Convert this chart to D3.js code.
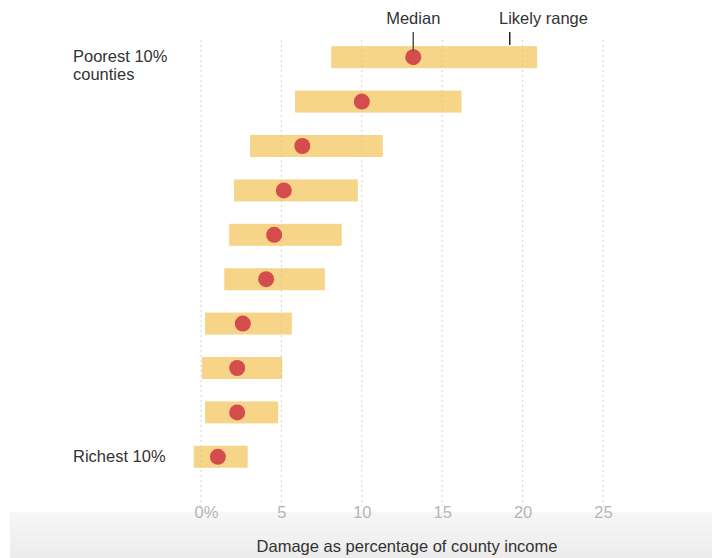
<!DOCTYPE html>
<html>
<head>
<meta charset="utf-8">
<script src="https://cdn.jsdelivr.net/npm/d3@7"></script>
<style>
  html, body { margin: 0; padding: 0; background: #fff; }
  svg { display: block; font-family: "Liberation Sans", Arial, sans-serif; }
</style>
</head>
<body>
<svg id="chart" width="712" height="558"></svg>
<script>
// Data
const groups = ["Poorest 10% counties", "2", "3", "4", "5", "6", "7", "8", "9", "Richest 10%"];
const lowValues    = [8.1, 5.85, 3.05, 2.05, 1.75, 1.45, 0.25, 0.05, 0.25, -0.45];
const highValues   = [20.9, 16.2, 11.3, 9.75, 8.75, 7.7, 5.65, 5.05, 4.8, 2.9];
const medianValues = [13.2, 10.0, 6.3, 5.15, 4.55, 4.05, 2.6, 2.25, 2.25, 1.05];
const tickValues = [0, 5, 10, 15, 20, 25];
const tickLabels = ["0%", "5", "10", "15", "20", "25"];

const svg = d3.select("#chart");
const W = 712, H = 558;
const FS = 16.5;

// bottom gray band
const defs = svg.append("defs");
const grad = defs.append("linearGradient").attr("id", "band").attr("x1", 0).attr("y1", 0).attr("x2", 0).attr("y2", 1);
grad.append("stop").attr("offset", "0%").attr("stop-color", "#f7f7f7");
grad.append("stop").attr("offset", "100%").attr("stop-color", "#ececec");
svg.append("rect").attr("x", 10).attr("y", 512).attr("width", W - 10).attr("height", H - 512).attr("fill", "url(#band)");

const x = d3.scaleLinear().domain([0, 25]).range([201, 603]);
const y = d3.scaleBand().domain(d3.range(groups.length)).range([35, 479]).paddingInner(0.5).paddingOuter(0.25);

const barH = 22;
const yc = i => y(i) + y.bandwidth() / 2;

// bars
svg.append("g").selectAll("rect").data(groups).join("rect")
  .attr("x", (d, i) => x(lowValues[i]))
  .attr("width", (d, i) => x(highValues[i]) - x(lowValues[i]))
  .attr("y", (d, i) => yc(i) - barH / 2)
  .attr("height", barH)
  .attr("fill", "#f6d488");

// gridlines (dotted, faintly over bars)
svg.append("g").selectAll("line").data(tickValues).join("line")
  .attr("x1", d => x(d)).attr("x2", d => x(d))
  .attr("y1", 40).attr("y2", 506)
  .attr("stroke", "#c4c4c4").attr("stroke-opacity", 0.75)
  .attr("stroke-width", 1).attr("stroke-dasharray", "2,3");

// axis tick labels
const axis = d3.axisBottom(x).tickValues(tickValues).tickFormat((d, i) => tickLabels[i]).tickSize(0).tickPadding(0);
const ag = svg.append("g").attr("transform", "translate(0,506)").call(axis);
ag.select(".domain").remove();
ag.selectAll("text").attr("fill", "#b5b5b5").attr("font-size", FS).attr("font-family", "Liberation Sans, Arial, sans-serif")
  .attr("dx", (d, i) => i === 0 ? 5 : 0);

// medians
svg.append("g").selectAll("circle").data(groups).join("circle")
  .attr("cx", (d, i) => x(medianValues[i]))
  .attr("cy", (d, i) => yc(i))
  .attr("r", 8)
  .attr("fill", "#d44c4b");

// annotations
const mx = x(medianValues[0]);
svg.append("line").attr("x1", mx).attr("x2", mx).attr("y1", 32).attr("y2", yc(0) - 6).attr("stroke", "#555").attr("stroke-width", 1.5);
svg.append("text").attr("x", mx).attr("y", 24).attr("text-anchor", "middle").attr("font-size", FS).attr("fill", "#333").text("Median");

const rx = x(19.2);
svg.append("line").attr("x1", rx).attr("x2", rx).attr("y1", 32).attr("y2", 45).attr("stroke", "#222").attr("stroke-width", 1.5);
svg.append("text").attr("x", x(21.3)).attr("y", 24).attr("text-anchor", "middle").attr("font-size", FS).attr("fill", "#333").text("Likely range");

// row labels
svg.append("text").attr("x", 73).attr("y", yc(0) + 5).attr("font-size", FS).attr("fill", "#333").text("Poorest 10%");
svg.append("text").attr("x", 73).attr("y", yc(0) + 23).attr("font-size", FS).attr("fill", "#333").text("counties");
svg.append("text").attr("x", 73).attr("y", yc(9) + 5).attr("font-size", FS).attr("fill", "#333").text(groups[9]);

// axis title
svg.append("text").attr("x", 407).attr("y", 552).attr("text-anchor", "middle").attr("font-size", FS).attr("fill", "#333")
  .text("Damage as percentage of county income");
</script>
</body>
</html>
